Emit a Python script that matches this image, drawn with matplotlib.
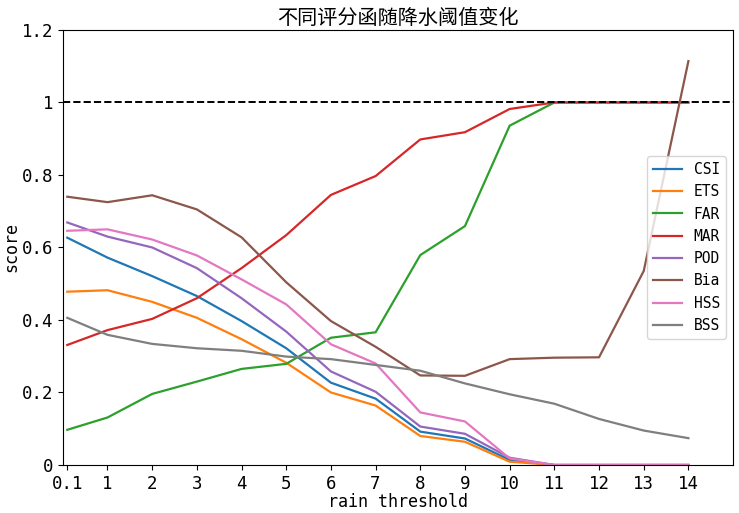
import matplotlib
matplotlib.use("Agg")
import matplotlib.pyplot as plt

MONO = ['DejaVu Sans Mono', 'Noto Sans CJK SC']
plt.rcParams['font.family'] = MONO
plt.rcParams['axes.unicode_minus'] = False

thresholds = [0.1, 1, 2, 3, 4, 5, 6, 7, 8, 9, 10, 11, 12, 13, 14]
names = ['CSI', 'ETS', 'FAR', 'MAR', 'POD', 'Bia', 'HSS', 'BSS']

csi = [0.627, 0.572, 0.521, 0.466, 0.397, 0.322, 0.227, 0.183, 0.092, 0.073, 0.014, 0, 0, 0, 0]
ets = [0.478, 0.482, 0.450, 0.406, 0.347, 0.282, 0.200, 0.164, 0.080, 0.064, 0.009, 0, 0, 0, 0]
far = [0.097, 0.131, 0.196, 0.230, 0.265, 0.279, 0.351, 0.366, 0.579, 0.659, 0.936, 1.0, 1.0, 1.0, 1.0]
mar = [0.331, 0.372, 0.403, 0.460, 0.543, 0.634, 0.745, 0.797, 0.898, 0.918, 0.982, 1.0, 1.0, 1.0, 1.0]
pod = [0.669, 0.630, 0.600, 0.543, 0.460, 0.368, 0.258, 0.202, 0.106, 0.086, 0.020, 0, 0, 0, 0]
bia = [0.740, 0.725, 0.744, 0.705, 0.628, 0.504, 0.397, 0.326, 0.247, 0.246, 0.292, 0.296, 0.297, 0.535, 1.114]
hss = [0.646, 0.650, 0.622, 0.578, 0.512, 0.443, 0.333, 0.280, 0.145, 0.120, 0.018, 0, 0, 0, 0]
bss = [0.406, 0.359, 0.334, 0.322, 0.315, 0.299, 0.292, 0.276, 0.260, 0.225, 0.195, 0.169, 0.127, 0.095, 0.074]

series = [csi, ets, far, mar, pod, bia, hss, bss]

fig = plt.figure(figsize=(7.39, 5.13), dpi=100)
ax = fig.add_axes([0.085, 0.0936, 0.907, 0.848])

for name, vals in zip(names, series):
    ax.plot(thresholds, vals, lw=1.6, label=name)

ax.axhline(1.0, color='k', ls='--', lw=1.4)

ax.set_xlim(0, 15)
ax.set_ylim(0, 1.2)
ax.set_xticks(thresholds)
ax.set_xticklabels(['0.1'] + [str(int(t)) for t in thresholds[1:]])
ax.set_yticks([0, 0.2, 0.4, 0.6, 0.8, 1.0, 1.2])
ax.set_yticklabels(['0', '0.2', '0.4', '0.6', '0.8', '1', '1.2'])
ax.tick_params(labelsize=12.5)

ax.set_title('不同评分函随降水阈值变化', family=['Noto Sans CJK SC'], fontsize=14.5, pad=4)
ax.set_xlabel('rain threshold', fontsize=12, labelpad=0)
ax.set_ylabel('score', fontsize=12)
ax.yaxis.set_label_coords(-0.063, 0.5)

ax.legend(loc='center right', fontsize=10.5)

fig.savefig('out.png', dpi=100)
